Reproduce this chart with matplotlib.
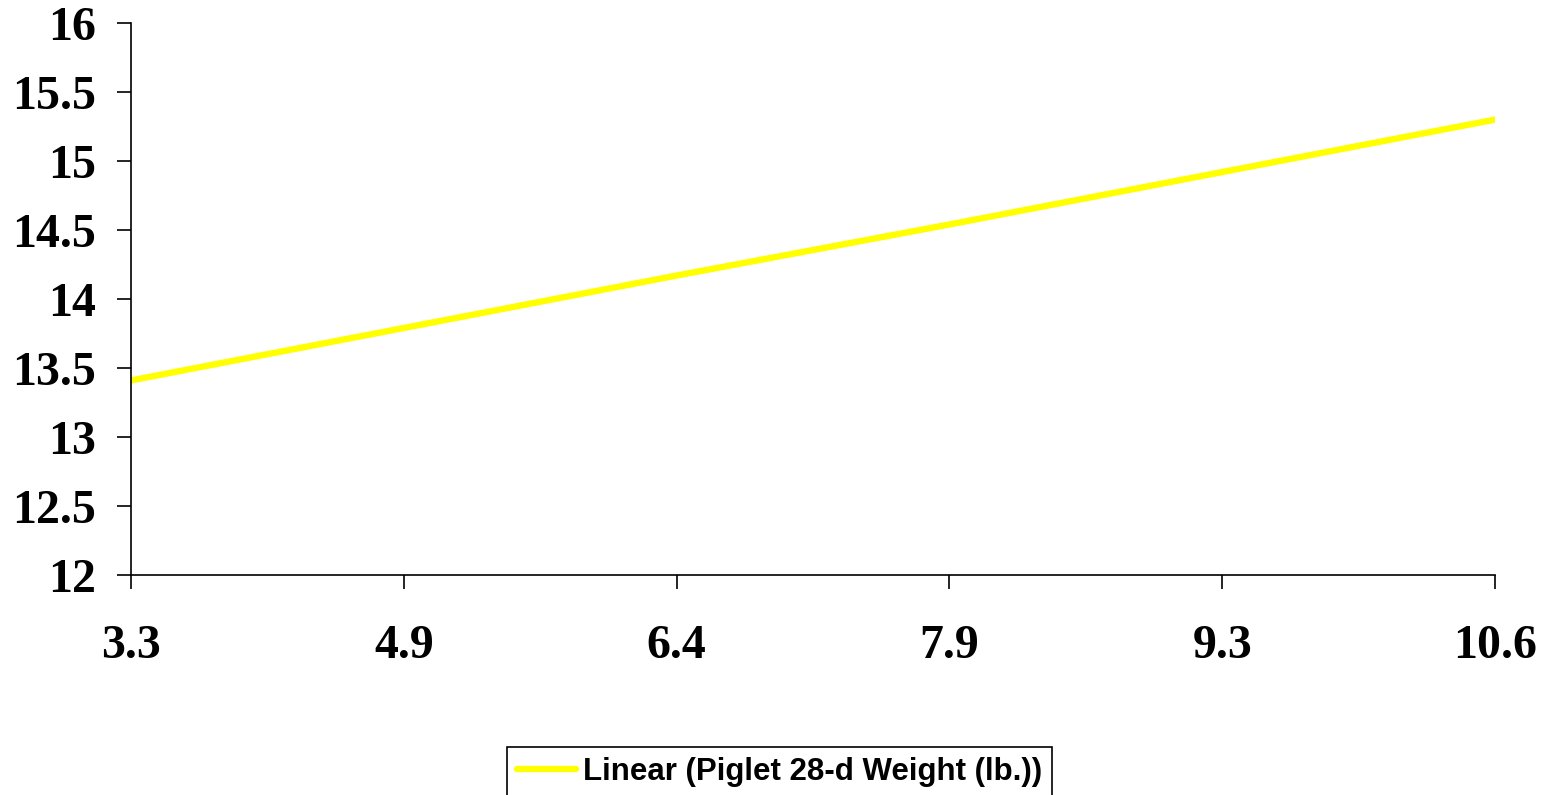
import matplotlib.pyplot as plt
from matplotlib.patches import Rectangle

# piglet weight trend line (category axis)
categories = ["3.3", "4.9", "6.4", "7.9", "9.3", "10.6"]
trend = [13.41, 13.79, 14.17, 14.54, 14.92, 15.30]
yticks = [12, 12.5, 13, 13.5, 14, 14.5, 15, 15.5, 16]
ytick_labels = ["12", "12.5", "13", "13.5", "14", "14.5", "15", "15.5", "16"]

W, H = 1546, 795
fig = plt.figure(figsize=(W / 100, H / 100), dpi=100)
ax = fig.add_axes([131 / W, 1 - 575 / H, (1495 - 131) / W, (575 - 23) / H])

x = list(range(len(categories)))
ax.plot(x, trend, color="#ffff00", lw=4.6, solid_capstyle="round",
        label="Linear (Piglet 28-d Weight (lb.))")

ax.set_xlim(0, len(categories) - 1)
ax.set_ylim(12, 16)
ax.set_xticks(x)
ax.set_xticklabels(categories)
ax.set_yticks(yticks)
ax.set_yticklabels(ytick_labels)

for s in ["top", "right"]:
    ax.spines[s].set_visible(False)
for s in ["left", "bottom"]:
    ax.spines[s].set_linewidth(1.2)
    ax.spines[s].set_color("black")

tick_font = dict(family="Liberation Serif", weight="bold", size=34.5)
ax.tick_params(axis="y", direction="out", length=10, width=1.2, pad=15)
ax.tick_params(axis="x", direction="out", length=10, width=1.2, pad=25)
for lab in ax.get_xticklabels() + ax.get_yticklabels():
    lab.set_fontproperties(tick_font)
ax.patch.set_visible(False)

# legend sits at the bottom, its box running off the lower edge
leg = fig.legend(loc="center left", bbox_to_anchor=(507 / W, 1 - 772 / H),
                 frameon=False, handlelength=1.9, handletextpad=0.2,
                 borderpad=0.32, borderaxespad=0,
                 prop=dict(family="Liberation Sans", weight="bold", size=22.5))
fig.canvas.draw()
bb = leg.get_window_extent().transformed(fig.transFigure.inverted())
top = 1 - 747 / H
fig.add_artist(Rectangle((bb.x0, -0.05), bb.x1 - bb.x0, top + 0.05,
                         transform=fig.transFigure, fill=False,
                         edgecolor="black", linewidth=1.2))

fig.savefig("out.png", dpi=100)
